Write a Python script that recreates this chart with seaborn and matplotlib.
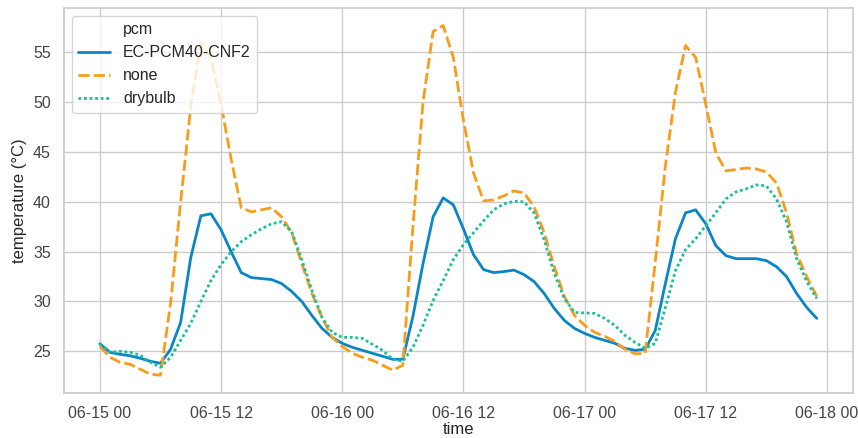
import matplotlib
matplotlib.use("Agg")
import matplotlib.pyplot as plt
import matplotlib.dates as mdates
from matplotlib.lines import Line2D
import pandas as pd
import seaborn as sns

# hourly readings, 06-15 00:00 to 06-17 23:00
times = pd.date_range("2021-06-15 00:00", periods=72, freq="h")

ec_pcm = [25.75, 24.9, 24.7, 24.55, 24.3, 24.0, 23.8, 25.2, 27.9, 34.4, 38.6, 38.8,
          37.2, 35.0, 32.9, 32.4, 32.3, 32.2, 31.8, 31.0, 30.0, 28.6, 27.3, 26.4,
          25.8, 25.4, 25.1, 24.8, 24.5, 24.2, 24.2, 28.5, 33.8, 38.5, 40.4, 39.7,
          37.3, 34.7, 33.2, 32.9, 33.0, 33.15, 32.7, 32.0, 30.8, 29.3, 28.1, 27.3,
          26.8, 26.4, 26.1, 25.8, 25.3, 25.1, 25.2, 27.1, 31.8, 36.3, 38.9, 39.2,
          37.8, 35.6, 34.6, 34.3, 34.3, 34.3, 34.1, 33.5, 32.5, 30.8, 29.4, 28.3]

none = [25.5, 24.4, 23.9, 23.7, 23.2, 22.7, 22.6, 29.8, 40.0, 49.5, 56.0, 54.5,
        49.8, 44.3, 39.4, 39.0, 39.2, 39.4, 38.5, 36.9, 33.8, 30.8, 28.4, 26.4,
        25.5, 24.8, 24.4, 24.1, 23.6, 23.1, 23.6, 37.5, 50.0, 57.1, 57.7, 54.5,
        48.2, 42.9, 40.1, 40.2, 40.6, 41.1, 40.9, 39.5, 36.9, 33.5, 30.5, 28.6,
        27.6, 26.9, 26.5, 26.0, 25.2, 24.75, 24.8, 34.0, 43.6, 51.0, 55.7, 54.5,
        49.8, 44.9, 43.1, 43.25, 43.4, 43.3, 43.0, 41.9, 38.9, 34.8, 32.5, 30.5]

drybulb = [25.75, 24.9, 25.0, 24.9, 24.6, 23.9, 23.4, 24.4, 26.1, 27.8, 30.0, 32.1,
           33.7, 35.0, 36.0, 36.7, 37.3, 37.8, 38.0, 37.0, 34.2, 31.1, 28.4, 26.9,
           26.4, 26.4, 26.3, 25.7, 25.1, 24.2, 24.0, 25.4, 27.6, 30.1, 32.1, 34.2,
           35.7, 36.9, 38.1, 39.2, 39.8, 40.05, 40.0, 38.9, 36.2, 32.8, 30.3, 28.9,
           28.85, 28.8, 28.3, 27.6, 26.6, 25.9, 25.3, 25.8, 29.4, 33.1, 35.2, 36.3,
           37.6, 38.9, 40.3, 41.0, 41.3, 41.7, 41.6, 40.3, 38.0, 34.3, 32.0, 30.3]

pcm_names = ["EC-PCM40-CNF2", "none", "drybulb"]
colors = ["#0a86c6", "#f99c1c", "#17c09a"]

df = pd.concat([
    pd.DataFrame({"time": times, "temperature": vals, "pcm": name})
    for name, vals in zip(pcm_names, [ec_pcm, none, drybulb])
])

sns.set_theme(style="whitegrid")
plt.rcParams["font.family"] = ["Liberation Sans", "DejaVu Sans"]

fig, ax = plt.subplots(figsize=(8.58, 4.38), dpi=100)
fig.subplots_adjust(left=0.0746, right=0.9938, top=0.9817, bottom=0.1034)

sns.lineplot(data=df, x="time", y="temperature", hue="pcm", style="pcm",
             palette=colors, linewidth=2.0, ax=ax)

ax.xaxis.set_major_locator(mdates.HourLocator(byhour=[0, 12]))
ax.xaxis.set_major_formatter(mdates.DateFormatter("%m-%d %H"))
ax.set_xlabel("time", fontsize=12, labelpad=1)
ax.set_ylabel("temperature (°C)", fontsize=12)
ax.tick_params(labelsize=11.5, colors="#444444")

handles, labels = ax.get_legend_handles_labels()
blank = Line2D([], [], linestyle="none")
ax.legend([blank] + handles, ["pcm"] + labels, loc="upper left", fontsize=11.5)

fig.savefig("out.png", dpi=100)
